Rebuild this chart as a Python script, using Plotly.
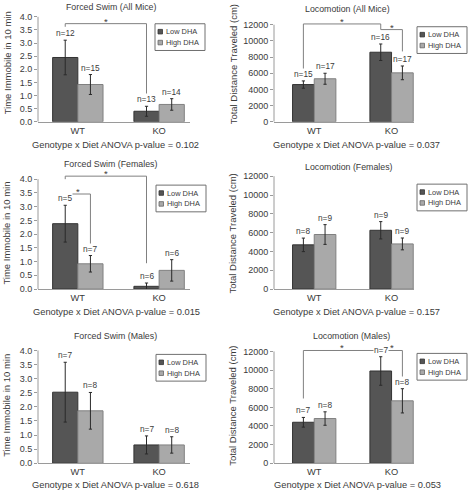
import plotly.graph_objects as go

# ---------------- data ----------------
genotypes = ["WT", "KO"]
diets = ["Low DHA", "High DHA"]

titles = ["Forced Swim (All Mice)", "Locomotion (All Mice)",
          "Forced Swim (Females)", "Locomotion (Females)",
          "Forced Swim (Males)", "Locomotion (Males)"]
pvalues = ["0.102", "0.037", "0.015", "0.157", "0.618", "0.053"]

fs_all_low = [2.45, 0.40]
fs_all_low_err = [0.66, 0.19]
fs_all_high = [1.42, 0.66]
fs_all_high_err = [0.38, 0.22]
fs_all_n = [[12, 13], [15, 14]]

loc_all_low = [4600, 8600]
loc_all_low_err = [450, 1020]
loc_all_high = [5320, 6050]
loc_all_high_err = [680, 850]
loc_all_n = [[15, 16], [17, 17]]

fs_fem_low = [2.38, 0.10]
fs_fem_low_err = [0.67, 0.12]
fs_fem_high = [0.92, 0.68]
fs_fem_high_err = [0.30, 0.39]
fs_fem_n = [[5, 6], [7, 6]]

loc_fem_low = [4700, 6250]
loc_fem_low_err = [720, 920]
loc_fem_high = [5800, 4800]
loc_fem_high_err = [1050, 630]
loc_fem_n = [[8, 9], [9, 9]]

fs_male_low = [2.52, 0.65]
fs_male_low_err = [1.06, 0.32]
fs_male_high = [1.86, 0.65]
fs_male_high_err = [0.65, 0.29]
fs_male_n = [[7, 7], [8, 8]]

loc_male_low = [4400, 9900]
loc_male_low_err = [520, 1530]
loc_male_high = [4800, 6700]
loc_male_high_err = [720, 1300]
loc_male_n = [[7, 7], [8, 8]]

# significance brackets: (panel, (geno, diet) start, (geno, diet) end, line level, start drop, end drop)
brackets = [
    (0, (0, 0), (1, 0), 3.74, 3.62, 1.05),
    (1, (0, 0), (1, 0), 12100, 6150, 11400),
    (1, (1, 0), (1, 1), 11400, 11400, 8700),
    (2, (0, 0), (1, 0), 4.11, 4.0, 0.94),
    (2, (0, 0), (0, 1), 3.46, 3.36, 1.51),
    (5, (0, 0), (1, 0), 12100, 6950, 12100),
    (5, (1, 0), (1, 1), 12100, 12100, 8630),
]

panels = [
    (fs_all_low, fs_all_low_err, fs_all_high, fs_all_high_err, fs_all_n),
    (loc_all_low, loc_all_low_err, loc_all_high, loc_all_high_err, loc_all_n),
    (fs_fem_low, fs_fem_low_err, fs_fem_high, fs_fem_high_err, fs_fem_n),
    (loc_fem_low, loc_fem_low_err, loc_fem_high, loc_fem_high_err, loc_fem_n),
    (fs_male_low, fs_male_low_err, fs_male_high, fs_male_high_err, fs_male_n),
    (loc_male_low, loc_male_low_err, loc_male_high, loc_male_high_err, loc_male_n),
]

# ---------------- layout geometry (pixels) ----------------
W, H = 468, 496
FONT = "Liberation Sans, Arial, sans-serif"
TXT = "#3a3a3a"
AX = "#9a9a9a"
DARK = "#555555"
LIGHT = "#a9a9a9"

def px(x):
    return x / W

def py(y):
    return 1 - y / H

# column: (axis left px, axis right px, x range, bar width)
cols = [
    (38, 190, [-0.49, 1.38], 0.31),
    (274, 414, [-0.52, 1.29], 0.28),
]
# row geometry per panel: (zero px, top-tick px, top tick value, range max)
rowgeo = [
    (123, 17, 4.0, 4.45),
    (123, 25, 12000, 13000),
    (292, 181, 4.0, 4.3),
    (292, 178, 12000, 12600),
    (468, 354, 4.0, 4.25),
    (468, 355, 12000, 12800),
]
title_pos = [(111, 7), (347, 9), (110, 166), (349, 169), (115, 339), (351, 339)]
pval_pos = [(115, 146), (356, 146), (116, 315), (356, 315), (115, 490), (357, 490)]
ytitle_pos = [(7, 64), (233, 65), (7, 236), (233, 236), (7, 410), (233, 410)]
legend_box = [(155, 24), (417, 27), (156, 187), (417, 186), (156, 358), (417, 357)]
ytitles = ["Time Immobile in 10 min", "Total Distance Traveled (cm)"]

fig = go.Figure()
layout = dict(width=W, height=H, margin=dict(l=0, r=0, t=0, b=0),
              paper_bgcolor="white", plot_bgcolor="white",
              showlegend=False, barmode="group", bargap=0.38,
              font=dict(family=FONT, color=TXT, size=9))
shapes = []
annotations = []

def paper_text(x, y, text, size, **kw):
    d = dict(x=px(x), y=py(y), xref="paper", yref="paper", text=text,
             showarrow=False, xanchor="center", yanchor="middle",
             font=dict(size=size, color=TXT))
    d.update(kw)
    return d

for i, (low, lowe, high, highe, nn) in enumerate(panels):
    c = i % 2
    x0, x1, xr, bw = cols[c]
    zero, top, topv, rmax = rowgeo[i]
    upp = (zero - top) / topv
    ytop_px = zero - rmax * upp
    xa = "xaxis" if i == 0 else f"xaxis{i+1}"
    ya = "yaxis" if i == 0 else f"yaxis{i+1}"
    xr_ = "x" if i == 0 else f"x{i+1}"
    yr_ = "y" if i == 0 else f"y{i+1}"
    for d, (vals, errs, col, lc) in enumerate([(low, lowe, DARK, "#333333"),
                                               (high, highe, LIGHT, "#808080")]):
        fig.add_trace(go.Bar(
            x=genotypes, y=vals, name=diets[d], xaxis=xr_, yaxis=yr_,
            marker=dict(color=col, line=dict(color=lc, width=1)),
            width=bw, offset=-bw if d == 0 else 0,
            error_y=dict(type="data", array=errs, visible=True,
                         color="#2a2a2a", thickness=1, width=1.6),
        ))
        for g in range(2):
            annotations.append(dict(
                x=g - bw / 2 if d == 0 else g + bw / 2, y=vals[g] + errs[g],
                xref=xr_, yref=yr_, text=f"n={nn[d][g]}", showarrow=False,
                xanchor="center", yanchor="bottom", yshift=1,
                bgcolor="white", borderpad=0,
                font=dict(size=8.3, color=TXT)))
    is_loc = c == 1
    layout[xa] = dict(domain=[px(x0), px(x1)], range=xr, type="category",
                      anchor=yr_, showline=True, linecolor=AX, linewidth=1,
                      ticks="", showgrid=False, zeroline=False,
                      tickfont=dict(size=9.3, color=TXT), fixedrange=True)
    tv = [k * 2000 for k in range(7)] if is_loc else [k * 0.5 for k in range(9)]
    layout[ya] = dict(domain=[py(zero), py(ytop_px)], range=[0, rmax],
                      anchor=xr_, showline=False, showgrid=False, zeroline=False,
                      tickvals=tv, ticktext=[f"{v:d}" if is_loc else f"{v:.1f}" for v in tv],
                      ticks="outside", ticklen=3, tickcolor=AX,
                      tickfont=dict(size=9, color=TXT), fixedrange=True)
    # y axis line from 0 to top tick
    shapes.append(dict(type="line", xref=f"{xr_} domain", yref=yr_, x0=0, x1=0,
                       y0=0, y1=topv, line=dict(color=AX, width=1)))
    # title, p-value, y-title
    tx, ty = title_pos[i]
    annotations.append(paper_text(tx, ty, titles[i], 8.8))
    vx, vy = pval_pos[i]
    annotations.append(paper_text(vx, vy, f"Genotype x Diet ANOVA p-value = {pvalues[i]}", 9.3))
    yx, yy = ytitle_pos[i]
    annotations.append(paper_text(yx, yy, ytitles[c], 9.5, textangle=-90))
    # legend box
    lx, ly = legend_box[i]
    shapes.append(dict(type="rect", xref="paper", yref="paper",
                       x0=px(lx), x1=px(lx + 50), y0=py(ly), y1=py(ly + 27),
                       line=dict(color="#707070", width=1), fillcolor="white"))
    for d, (col, lc) in enumerate([(DARK, "#333333"), (LIGHT, "#666666")]):
        cy = ly + 8 + d * 11
        shapes.append(dict(type="rect", xref="paper", yref="paper",
                           x0=px(lx + 3), x1=px(lx + 7.5), y0=py(cy - 2.3), y1=py(cy + 2.3),
                           line=dict(color=lc, width=0.8), fillcolor=col))
        annotations.append(paper_text(lx + 8.5, cy, diets[d], 7.4, xanchor="left"))

# brackets
for (p, a, b, lvl, da, db) in brackets:
    c = p % 2
    bw = cols[c][3]
    xr_ = "x" if p == 0 else f"x{p+1}"
    yr_ = "y" if p == 0 else f"y{p+1}"
    xa_ = a[0] + (-bw / 2 if a[1] == 0 else bw / 2)
    xb_ = b[0] + (-bw / 2 if b[1] == 0 else bw / 2)
    ln = dict(color="#808080", width=1)
    shapes.append(dict(type="line", xref=xr_, yref=yr_, x0=xa_, x1=xb_, y0=lvl, y1=lvl, line=ln))
    if da != lvl:
        shapes.append(dict(type="line", xref=xr_, yref=yr_, x0=xa_, x1=xa_, y0=lvl, y1=da, line=ln))
    if db != lvl:
        shapes.append(dict(type="line", xref=xr_, yref=yr_, x0=xb_, x1=xb_, y0=lvl, y1=db, line=ln))
    annotations.append(dict(x=(xa_ + xb_) / 2, y=lvl, xref=xr_, yref=yr_, text="*",
                            showarrow=False, xanchor="center", yanchor="bottom", yshift=-5,
                            font=dict(size=9.5, color=TXT)))

layout["shapes"] = shapes
layout["annotations"] = annotations
fig.update_layout(**layout)
fig.write_html("out.html", config={"displayModeBar": False},
               post_script="document.body.style.margin='0';document.body.style.overflow='hidden';")
